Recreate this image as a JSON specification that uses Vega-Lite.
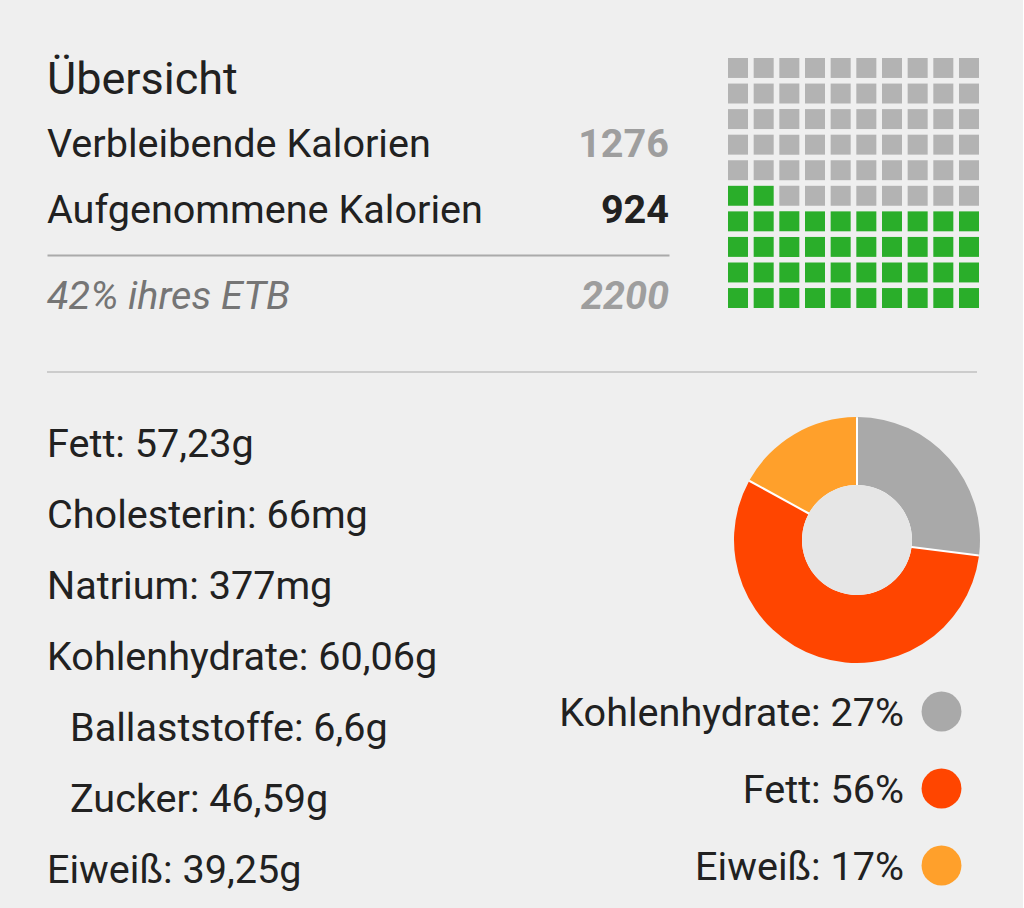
{
  "$schema": "https://vega.github.io/schema/vega-lite/v6.json",
  "background": "#efefef",
  "padding": {"left": 46, "top": 57, "right": 43, "bottom": 4},
  "config": {"view": {"stroke": null}, "font": "Roboto"},
  "datasets": {
    "summary": [
      {"item": "Übersicht", "kind": "heading"},
      {"item": "Verbleibende Kalorien", "kind": "remaining", "kcal": 1276},
      {"item": "Aufgenommene Kalorien", "kind": "consumed", "kcal": 924}
    ],
    "goal": [{"label": "42% ihres ETB", "kcal": 2200}],
    "macros": [
      {"macro": "Kohlenhydrate", "share": 27, "seq": 1, "label": "Kohlenhydrate: 27%"},
      {"macro": "Fett", "share": 56, "seq": 2, "label": "Fett: 56%"},
      {"macro": "Eiweiß", "share": 17, "seq": 3, "label": "Eiweiß: 17%"}
    ],
    "nutrients": [
      {"label": "Fett: 57,23g", "level": 1},
      {"label": "Cholesterin: 66mg", "level": 1},
      {"label": "Natrium: 377mg", "level": 1},
      {"label": "Kohlenhydrate: 60,06g", "level": 1},
      {"label": "Ballaststoffe: 6,6g", "level": 2},
      {"label": "Zucker: 46,59g", "level": 2},
      {"label": "Eiweiß: 39,25g", "level": 1}
    ],
    "waffle": [
      {"row":1,"col":1,"status":"verbleibend"},{"row":1,"col":2,"status":"verbleibend"},{"row":1,"col":3,"status":"verbleibend"},{"row":1,"col":4,"status":"verbleibend"},{"row":1,"col":5,"status":"verbleibend"},{"row":1,"col":6,"status":"verbleibend"},{"row":1,"col":7,"status":"verbleibend"},{"row":1,"col":8,"status":"verbleibend"},{"row":1,"col":9,"status":"verbleibend"},{"row":1,"col":10,"status":"verbleibend"},
      {"row":2,"col":1,"status":"verbleibend"},{"row":2,"col":2,"status":"verbleibend"},{"row":2,"col":3,"status":"verbleibend"},{"row":2,"col":4,"status":"verbleibend"},{"row":2,"col":5,"status":"verbleibend"},{"row":2,"col":6,"status":"verbleibend"},{"row":2,"col":7,"status":"verbleibend"},{"row":2,"col":8,"status":"verbleibend"},{"row":2,"col":9,"status":"verbleibend"},{"row":2,"col":10,"status":"verbleibend"},
      {"row":3,"col":1,"status":"verbleibend"},{"row":3,"col":2,"status":"verbleibend"},{"row":3,"col":3,"status":"verbleibend"},{"row":3,"col":4,"status":"verbleibend"},{"row":3,"col":5,"status":"verbleibend"},{"row":3,"col":6,"status":"verbleibend"},{"row":3,"col":7,"status":"verbleibend"},{"row":3,"col":8,"status":"verbleibend"},{"row":3,"col":9,"status":"verbleibend"},{"row":3,"col":10,"status":"verbleibend"},
      {"row":4,"col":1,"status":"verbleibend"},{"row":4,"col":2,"status":"verbleibend"},{"row":4,"col":3,"status":"verbleibend"},{"row":4,"col":4,"status":"verbleibend"},{"row":4,"col":5,"status":"verbleibend"},{"row":4,"col":6,"status":"verbleibend"},{"row":4,"col":7,"status":"verbleibend"},{"row":4,"col":8,"status":"verbleibend"},{"row":4,"col":9,"status":"verbleibend"},{"row":4,"col":10,"status":"verbleibend"},
      {"row":5,"col":1,"status":"verbleibend"},{"row":5,"col":2,"status":"verbleibend"},{"row":5,"col":3,"status":"verbleibend"},{"row":5,"col":4,"status":"verbleibend"},{"row":5,"col":5,"status":"verbleibend"},{"row":5,"col":6,"status":"verbleibend"},{"row":5,"col":7,"status":"verbleibend"},{"row":5,"col":8,"status":"verbleibend"},{"row":5,"col":9,"status":"verbleibend"},{"row":5,"col":10,"status":"verbleibend"},
      {"row":6,"col":1,"status":"aufgenommen"},{"row":6,"col":2,"status":"aufgenommen"},{"row":6,"col":3,"status":"verbleibend"},{"row":6,"col":4,"status":"verbleibend"},{"row":6,"col":5,"status":"verbleibend"},{"row":6,"col":6,"status":"verbleibend"},{"row":6,"col":7,"status":"verbleibend"},{"row":6,"col":8,"status":"verbleibend"},{"row":6,"col":9,"status":"verbleibend"},{"row":6,"col":10,"status":"verbleibend"},
      {"row":7,"col":1,"status":"aufgenommen"},{"row":7,"col":2,"status":"aufgenommen"},{"row":7,"col":3,"status":"aufgenommen"},{"row":7,"col":4,"status":"aufgenommen"},{"row":7,"col":5,"status":"aufgenommen"},{"row":7,"col":6,"status":"aufgenommen"},{"row":7,"col":7,"status":"aufgenommen"},{"row":7,"col":8,"status":"aufgenommen"},{"row":7,"col":9,"status":"aufgenommen"},{"row":7,"col":10,"status":"aufgenommen"},
      {"row":8,"col":1,"status":"aufgenommen"},{"row":8,"col":2,"status":"aufgenommen"},{"row":8,"col":3,"status":"aufgenommen"},{"row":8,"col":4,"status":"aufgenommen"},{"row":8,"col":5,"status":"aufgenommen"},{"row":8,"col":6,"status":"aufgenommen"},{"row":8,"col":7,"status":"aufgenommen"},{"row":8,"col":8,"status":"aufgenommen"},{"row":8,"col":9,"status":"aufgenommen"},{"row":8,"col":10,"status":"aufgenommen"},
      {"row":9,"col":1,"status":"aufgenommen"},{"row":9,"col":2,"status":"aufgenommen"},{"row":9,"col":3,"status":"aufgenommen"},{"row":9,"col":4,"status":"aufgenommen"},{"row":9,"col":5,"status":"aufgenommen"},{"row":9,"col":6,"status":"aufgenommen"},{"row":9,"col":7,"status":"aufgenommen"},{"row":9,"col":8,"status":"aufgenommen"},{"row":9,"col":9,"status":"aufgenommen"},{"row":9,"col":10,"status":"aufgenommen"},
      {"row":10,"col":1,"status":"aufgenommen"},{"row":10,"col":2,"status":"aufgenommen"},{"row":10,"col":3,"status":"aufgenommen"},{"row":10,"col":4,"status":"aufgenommen"},{"row":10,"col":5,"status":"aufgenommen"},{"row":10,"col":6,"status":"aufgenommen"},{"row":10,"col":7,"status":"aufgenommen"},{"row":10,"col":8,"status":"aufgenommen"},{"row":10,"col":9,"status":"aufgenommen"},{"row":10,"col":10,"status":"aufgenommen"}
    ]
  },
  "bounds": "full",
  "spacing": 34,
  "resolve": {"scale": {"color": "independent"}},
  "vconcat": [
    {
      "bounds": "full",
      "spacing": 54,
      "resolve": {"scale": {"color": "independent"}},
      "vconcat": [
        {
          "bounds": "full",
          "spacing": 59,
          "resolve": {"scale": {"color": "independent"}},
          "hconcat": [
            {
              "bounds": "flush",
              "spacing": 18,
              "resolve": {"scale": {"color": "independent"}},
              "vconcat": [
                {
                  "width": 622,
                  "height": 197,
                  "data": {"name": "summary"},
                  "layer": [
                    {
                      "transform": [{"filter": "datum.kind === 'heading'"}],
                      "mark": {"type": "text", "align": "left", "baseline": "middle", "dy": 2, "fontSize": 45, "color": "#212121"},
                      "encoding": {
                        "x": {"datum": "label", "type": "ordinal", "scale": {"type": "point", "domain": ["label", "value"], "padding": 0}, "axis": {"domain": true, "domainColor": "#aaaaaa", "domainWidth": 2, "ticks": false, "labels": false, "grid": false, "title": null}},
                        "y": {"field": "item", "type": "ordinal", "scale": {"type": "point", "domain": ["Übersicht", "Verbleibende Kalorien", "Aufgenommene Kalorien"], "padding": 0.5, "align": 0.3}, "axis": null},
                        "text": {"field": "item"}
                      }
                    },
                    {
                      "transform": [{"filter": "datum.kind !== 'heading'"}],
                      "mark": {"type": "text", "align": "left", "baseline": "middle", "dy": 2, "fontSize": 39.6, "color": "#212121"},
                      "encoding": {
                        "x": {"datum": "label", "type": "ordinal", "axis": {"domain": true, "domainColor": "#aaaaaa", "domainWidth": 2, "ticks": false, "labels": false, "grid": false, "title": null}},
                        "y": {"field": "item", "type": "ordinal"},
                        "text": {"field": "item"}
                      }
                    },
                    {
                      "transform": [{"filter": "datum.kind !== 'heading'"}],
                      "mark": {"type": "text", "align": "right", "baseline": "middle", "dy": 2, "fontSize": 39.6, "fontWeight": "bold"},
                      "encoding": {
                        "x": {"datum": "value", "type": "ordinal", "axis": {"domain": true, "domainColor": "#aaaaaa", "domainWidth": 2, "ticks": false, "labels": false, "grid": false, "title": null}},
                        "y": {"field": "item", "type": "ordinal"},
                        "text": {"field": "kcal", "type": "quantitative", "format": "d"},
                        "color": {"field": "kind", "type": "nominal", "scale": {"domain": ["remaining", "consumed"], "range": ["#9e9e9e", "#212121"]}, "legend": null}
                      }
                    }
                  ]
                },
                {
                  "width": 622,
                  "height": 44,
                  "data": {"name": "goal"},
                  "layer": [
                    {
                      "mark": {"type": "text", "align": "left", "baseline": "middle", "dy": 2, "fontSize": 39.6, "fontStyle": "italic", "color": "#757575"},
                      "encoding": {
                        "x": {"datum": "label", "type": "ordinal", "scale": {"type": "point", "domain": ["label", "value"], "padding": 0}, "axis": null},
                        "text": {"field": "label"}
                      }
                    },
                    {
                      "mark": {"type": "text", "align": "right", "baseline": "middle", "dy": 2, "fontSize": 39.6, "fontStyle": "italic", "fontWeight": "bold", "color": "#9e9e9e"},
                      "encoding": {
                        "x": {"datum": "value", "type": "ordinal", "axis": null},
                        "text": {"field": "kcal", "type": "quantitative", "format": "d"}
                      }
                    }
                  ]
                }
              ]
            },
            {
              "width": 251,
              "height": 250,
              "data": {"name": "waffle"},
              "mark": {"type": "rect"},
              "encoding": {
                "x": {"field": "col", "type": "ordinal", "scale": {"paddingInner": 0.22, "paddingOuter": 0}, "axis": null},
                "y": {"field": "row", "type": "ordinal", "scale": {"paddingInner": 0.22, "paddingOuter": 0}, "axis": null},
                "color": {"field": "status", "type": "nominal", "scale": {"domain": ["verbleibend", "aufgenommen"], "range": ["#b3b3b3", "#2aae2a"]}, "legend": null}
              }
            }
          ]
        },
        {
          "width": 930,
          "height": 2,
          "data": {"values": [{"section": "Nährwerte"}]},
          "mark": {"type": "rule", "color": "#cccccc", "strokeWidth": 2},
          "encoding": {
            "y": {"field": "section", "type": "nominal", "scale": {"type": "point", "padding": 0.5}, "axis": null}
          }
        }
      ]
    },
    {
      "bounds": "flush",
      "spacing": 664,
      "resolve": {"scale": {"color": "independent"}},
      "hconcat": [
        {
          "width": 23,
          "height": 498,
          "data": {"name": "nutrients"},
          "mark": {"type": "text", "align": "left", "baseline": "middle", "dy": 2, "fontSize": 39.6, "color": "#212121"},
          "encoding": {
            "x": {"field": "level", "type": "ordinal", "scale": {"type": "point", "padding": 0}, "axis": null},
            "y": {"field": "label", "type": "ordinal", "sort": null, "scale": {"type": "point", "padding": 0.5}, "axis": null},
            "text": {"field": "label"}
          }
        },
        {
          "bounds": "flush",
          "spacing": 0,
          "resolve": {"scale": {"color": "independent"}},
          "vconcat": [
            {
              "width": 246,
              "height": 266,
              "data": {"name": "macros"},
              "layer": [
                {
                  "transform": [{"aggregate": [{"op": "sum", "field": "share", "as": "share"}]}],
                  "mark": {"type": "arc", "outerRadius": 122, "color": "#ffffff"},
                  "encoding": {
                    "theta": {"field": "share", "type": "quantitative", "stack": true}
                  }
                },
                {
                  "mark": {"type": "arc", "outerRadius": 123, "innerRadius": 55, "padAngle": 0.015},
                  "encoding": {
                    "theta": {"field": "share", "type": "quantitative", "stack": true},
                    "order": {"field": "seq", "type": "quantitative"},
                    "color": {"field": "macro", "type": "nominal", "scale": {"domain": ["Kohlenhydrate", "Fett", "Eiweiß"], "range": ["#a9a9a9", "#ff4500", "#ffa02b"]}, "legend": null}
                  }
                },
                {
                  "transform": [{"aggregate": [{"op": "sum", "field": "share", "as": "share"}]}],
                  "mark": {"type": "arc", "outerRadius": 55, "color": "#e6e6e6"},
                  "encoding": {
                    "theta": {"field": "share", "type": "quantitative", "stack": true}
                  }
                }
              ]
            },
            {
              "width": 246,
              "height": 231,
              "data": {"name": "macros"},
              "encoding": {
                "x": {"datum": "dot", "type": "ordinal", "scale": {"type": "point", "domain": ["dot"], "padding": 0, "align": 0.8435}, "axis": null},
                "y": {"field": "macro", "type": "nominal", "scale": {"type": "point", "domain": ["Kohlenhydrate", "Fett", "Eiweiß"], "padding": 0.5}, "axis": null}
              },
              "layer": [
                {
                  "mark": {"type": "text", "align": "right", "baseline": "middle", "dx": -37.5, "dy": 2, "fontSize": 39.6, "color": "#212121"},
                  "encoding": {
                    "text": {"field": "label"}
                  }
                },
                {
                  "mark": {"type": "point", "shape": "circle", "filled": true, "size": 1590, "opacity": 1},
                  "encoding": {
                    "color": {"field": "macro", "type": "nominal", "scale": {"domain": ["Kohlenhydrate", "Fett", "Eiweiß"], "range": ["#a9a9a9", "#ff4500", "#ffa02b"]}, "legend": null}
                  }
                }
              ]
            }
          ]
        }
      ]
    }
  ]
}
